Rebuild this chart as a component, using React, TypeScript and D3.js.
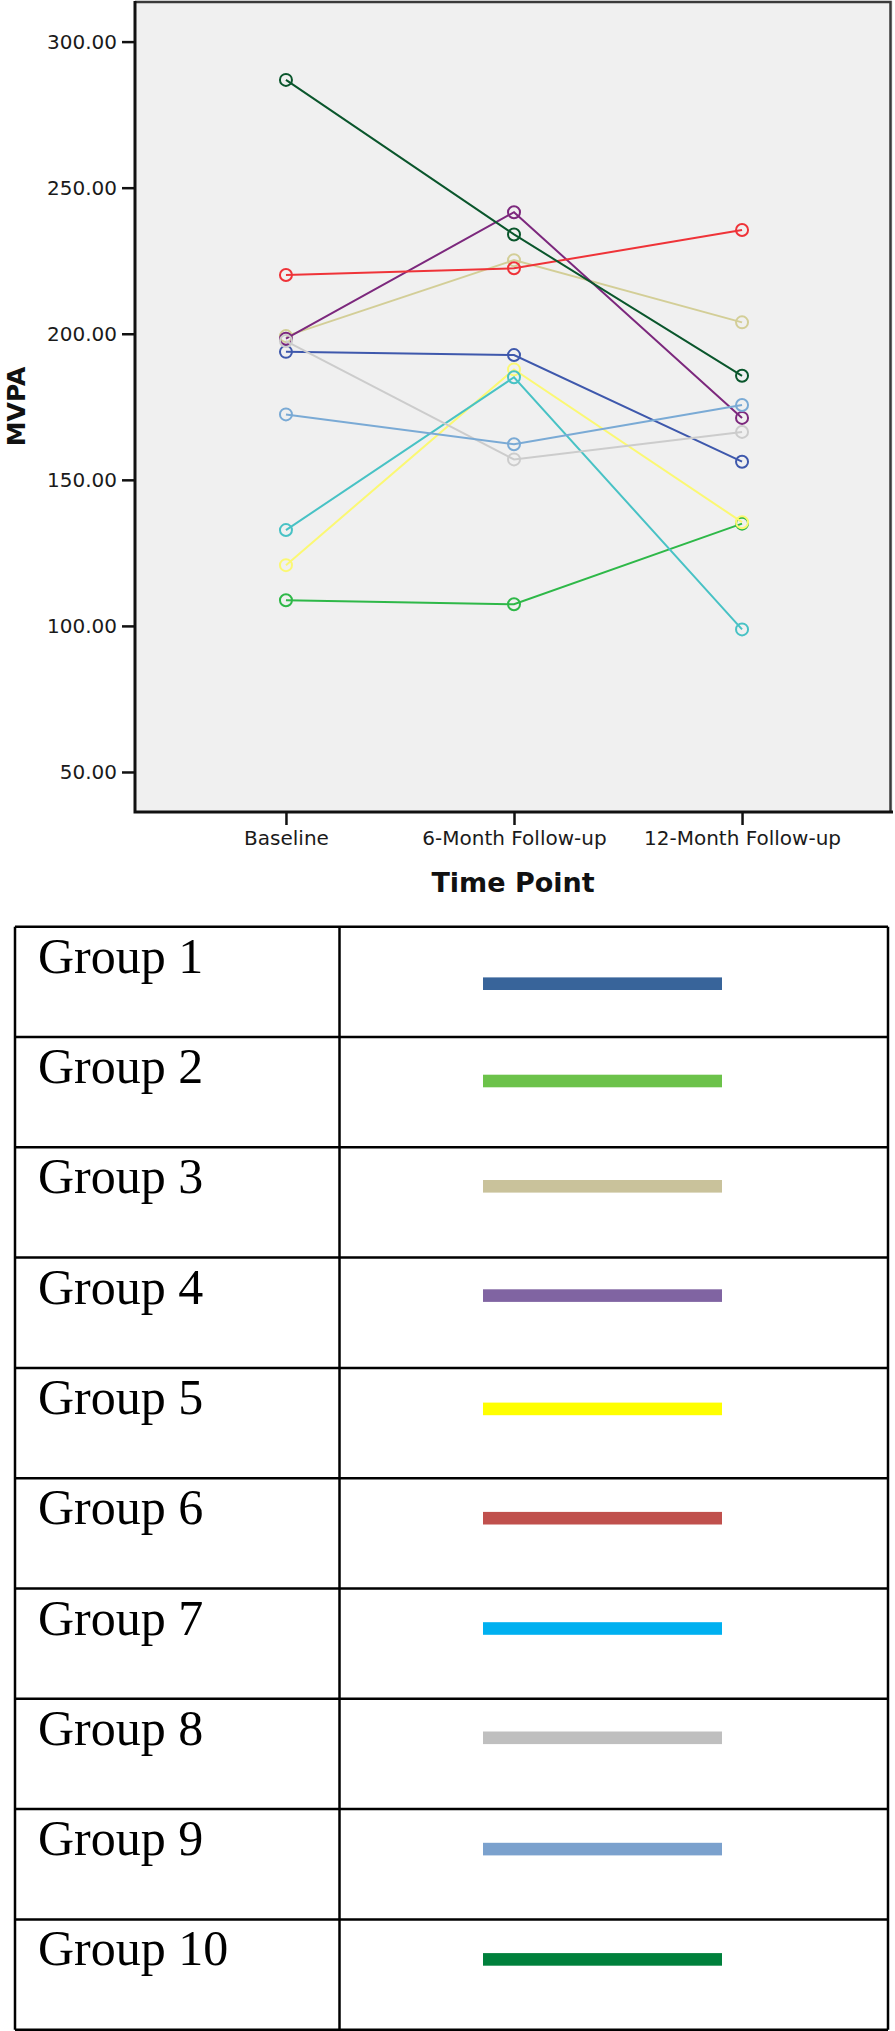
import React, { useEffect, useRef } from 'react';
import * as d3 from 'd3';

const timePoints = ['Baseline', '6-Month Follow-up', '12-Month Follow-up'];
const groupNames = ['Group 1', 'Group 2', 'Group 3', 'Group 4', 'Group 5', 'Group 6', 'Group 7', 'Group 8', 'Group 9', 'Group 10'];

const group1 = [193.8, 192.7, 156.2];
const group2 = [108.8, 107.4, 135.0];
const group3 = [199.2, 225.2, 203.9];
const group4 = [198.3, 241.6, 171.2];
const group5 = [120.8, 187.8, 135.5];
const group6 = [220.1, 222.4, 235.5];
const group7 = [132.8, 185.1, 98.8];
const group8 = [197.5, 157.0, 166.4];
const group9 = [172.4, 162.2, 175.6];
const group10 = [286.9, 234.0, 185.6];

const yTicks = [50, 100, 150, 200, 250, 300];

// colours used in the plot (SPSS defaults) and the ones in the legend table
const lineColors = ['#3e58ac', '#2eb848', '#d3ce97', '#7c287d', '#fbf873', '#ef3338', '#48c2c5', '#cccccc', '#7aaad5', '#0a562c'];
const legendColors = ['#38649a', '#6cc24a', '#c9c29b', '#8064a2', '#ffff00', '#c0504d', '#00b0f0', '#bfbfbf', '#7ba1cd', '#00803c'];

const App = () => {
  const ref = useRef<SVGSVGElement>(null);

  useEffect(() => {
    const svg = d3.select(ref.current);
    svg.selectAll('*').remove();

    const series = [group1, group2, group3, group4, group5, group6, group7, group8, group9, group10];

    const plot = { left: 135, right: 893, top: 1, bottom: 812 };

    const x = d3.scalePoint<string>()
      .domain(timePoints)
      .range([plot.left, plot.right])
      .padding(0.662);

    const y = d3.scaleLinear()
      .domain([36.3, 313.9])
      .range([plot.bottom, plot.top]);

    // plot area
    svg.append('rect')
      .attr('x', plot.left)
      .attr('y', plot.top)
      .attr('width', plot.right - plot.left)
      .attr('height', plot.bottom - plot.top)
      .attr('fill', '#f0f0f0');

    svg.append('path')
      .attr('d', `M${plot.left},${plot.top + 1}H${plot.right - 2.5}V${plot.bottom}`)
      .attr('fill', 'none')
      .attr('stroke', '#3a3a3a')
      .attr('stroke-width', 2.5);

    const lineGen = d3.line<number>()
      .x((d, i) => x(timePoints[i]) as number)
      .y(d => y(d));

    const lines = svg.append('g');
    series.forEach((vals, gi) => {
      lines.append('path')
        .attr('d', lineGen(vals))
        .attr('fill', 'none')
        .attr('stroke', lineColors[gi])
        .attr('stroke-width', 2);
      lines.selectAll(null)
        .data(vals)
        .enter()
        .append('circle')
        .attr('cx', (d, i) => x(timePoints[i]) as number)
        .attr('cy', d => y(d))
        .attr('r', 6)
        .attr('fill', 'none')
        .attr('stroke', lineColors[gi])
        .attr('stroke-width', 2);
    });

    // axes
    const yAxis = svg.append('g')
      .attr('transform', `translate(${plot.left},0)`)
      .call(d3.axisLeft(y).tickValues(yTicks).tickSize(13).tickPadding(5).tickFormat(d => d3.format('.2f')(d as number)));
    yAxis.select('.domain').remove();
    yAxis.selectAll('line').attr('stroke', '#111').attr('stroke-width', 2.5);
    yAxis.selectAll('text')
      .attr('font-family', 'DejaVu Sans')
      .attr('font-size', 20)
      .attr('fill', '#1a1a1a');

    const xAxis = svg.append('g')
      .attr('transform', `translate(0,${plot.bottom})`)
      .call(d3.axisBottom(x).tickSize(13).tickPadding(6));
    xAxis.select('.domain').remove();
    xAxis.selectAll('line').attr('stroke', '#111').attr('stroke-width', 2.5);
    xAxis.selectAll('text')
      .attr('font-family', 'DejaVu Sans')
      .attr('font-size', 20)
      .attr('fill', '#1a1a1a');

    svg.append('path')
      .attr('d', `M${plot.left},${plot.top}V${plot.bottom}H${plot.right}`)
      .attr('fill', 'none')
      .attr('stroke', '#111')
      .attr('stroke-width', 3);

    svg.append('text')
      .attr('x', 513)
      .attr('y', 892)
      .attr('text-anchor', 'middle')
      .attr('font-family', 'DejaVu Sans')
      .attr('font-weight', 'bold')
      .attr('font-size', 27)
      .attr('fill', '#111')
      .text('Time Point');

    svg.append('text')
      .attr('transform', `translate(25,${(plot.top + plot.bottom) / 2}) rotate(-90)`)
      .attr('text-anchor', 'middle')
      .attr('font-family', 'DejaVu Sans')
      .attr('font-weight', 'bold')
      .attr('font-size', 25)
      .attr('fill', '#111')
      .text('MVPA');

    // legend table
    const table = { left: 15, right: 888, split: 339.5, top: 926.7, rowH: 110.3 };
    const barOffsets = [57, 44, 39, 38, 41, 40, 40, 39, 40, 40];
    const rowY = d3.scaleBand()
      .domain(groupNames)
      .range([table.top, table.top + table.rowH * groupNames.length]);

    const tg = svg.append('g');
    groupNames.forEach((name, i) => {
      const top = rowY(name) as number;
      tg.append('text')
        .attr('x', 38)
        .attr('y', top + 46)
        .attr('font-family', "'Liberation Serif', 'Times New Roman', serif")
        .attr('font-size', 50)
        .attr('fill', '#000')
        .text(name);
      tg.append('rect')
        .attr('x', 483)
        .attr('y', top + barOffsets[i] - 6.3)
        .attr('width', 239)
        .attr('height', 12.6)
        .attr('fill', legendColors[i]);
    });

    tg.selectAll('line.row')
      .data(d3.range(groupNames.length + 1))
      .enter()
      .append('line')
      .attr('x1', table.left)
      .attr('x2', table.right)
      .attr('y1', i => table.top + i * table.rowH)
      .attr('y2', i => table.top + i * table.rowH)
      .attr('stroke', '#000')
      .attr('stroke-width', 2.5);

    [table.left, table.split, table.right].forEach(cx => {
      tg.append('line')
        .attr('x1', cx)
        .attr('x2', cx)
        .attr('y1', table.top)
        .attr('y2', table.top + table.rowH * groupNames.length)
        .attr('stroke', '#000')
        .attr('stroke-width', 2.5);
    });
  }, []);

  return (
    <svg
      ref={ref}
      width={895}
      height={2031}
      style={{ position: 'absolute', left: 0, top: 0, display: 'block', background: '#fff' }}
    />
  );
};

export default App;
